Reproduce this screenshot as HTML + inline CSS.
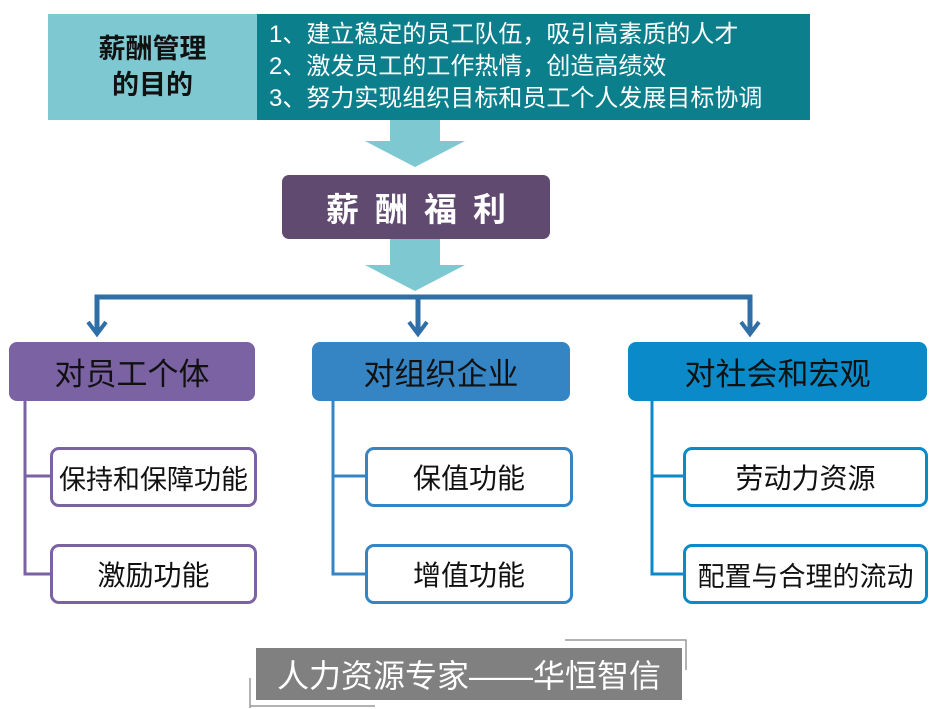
<!DOCTYPE html>
<html><head><meta charset="utf-8"><style>
body{margin:0;width:936px;height:709px;background:#fff;position:relative;overflow:hidden;font-family:"Liberation Sans","Noto Sans CJK SC",sans-serif}
div{position:absolute;box-sizing:border-box}
.c{display:flex;align-items:center;justify-content:center;white-space:nowrap}
.cat{border-radius:8px;font-size:31px;color:#111}
.sub{border:3px solid;border-radius:9px;background:#fff;font-size:28px;color:#111}
</style></head><body>
<div class="c" style="left:48px;top:14px;width:209px;height:106px;background:#7ec8d1;font-size:27px;font-weight:bold;line-height:36px;text-align:center;color:#111">薪酬管理<br>的目的</div>
<div style="left:257px;top:14px;width:553px;height:106px;background:#0c7f8c;color:#fff;font-size:24px;line-height:32px;padding:5px 0 0 12px;white-space:nowrap">1、建立稳定的员工队伍，吸引高素质的人才<br>2、激发员工的工作热情，创造高绩效<br>3、努力实现组织目标和员工个人发展目标协调</div>
<svg style="position:absolute;left:0;top:0" width="936" height="709">
<polygon points="390,120 440,120 440,141 465,141 415,167 365,141 390,141" fill="#7ec8d1"/>
<polygon points="390,239 440,239 440,265 465,265 415,291 365,265 390,265" fill="#7ec8d1"/>
<g stroke="#2e6fa7" stroke-width="5" fill="none">
<path d="M97,334 V297 H750 V334 M418,297 V334"/>
<path d="M88,322 L97,334 L106,322 M409,322 L418,334 L427,322 M741,322 L750,334 L759,322" stroke-width="4"/>
</g>
<g fill="none" stroke-width="3">
<path d="M25,401 V574 H50 M25,476 H50" stroke="#7a62a3"/>
<path d="M333,401 V574 H365 M333,476 H365" stroke="#3585c4"/>
<path d="M652,401 V574 H683 M652,476 H683" stroke="#0a8ac8"/>
</g>
<path d="M250,708 V678 M565,640 H686 V670" stroke="#999" stroke-width="1.5" fill="none"/>
<path d="M250,706 H375" stroke="#999" stroke-width="1.5"/>
</svg>
<div class="c" style="left:282px;top:175px;width:268px;height:64px;background:#614a70;border-radius:7px;color:#fff;font-size:33px;font-weight:bold;letter-spacing:16px;padding-left:16px">薪酬福利</div>
<div class="c cat" style="left:9px;top:342px;width:246px;height:59px;background:#7a62a3">对员工个体</div>
<div class="c cat" style="left:312px;top:342px;width:258px;height:59px;background:#3585c4">对组织企业</div>
<div class="c cat" style="left:628px;top:342px;width:299px;height:59px;background:#0a8ac8">对社会和宏观</div>
<div class="c sub" style="left:50px;top:447px;width:207px;height:60px;border-color:#7a62a3;font-size:27px">保持和保障功能</div>
<div class="c sub" style="left:50px;top:544px;width:207px;height:60px;border-color:#7a62a3">激励功能</div>
<div class="c sub" style="left:365px;top:447px;width:208px;height:60px;border-color:#3585c4">保值功能</div>
<div class="c sub" style="left:365px;top:544px;width:208px;height:60px;border-color:#3585c4">增值功能</div>
<div class="c sub" style="left:683px;top:447px;width:245px;height:60px;border-color:#0a8ac8">劳动力资源</div>
<div class="c sub" style="left:683px;top:544px;width:245px;height:60px;border-color:#0a8ac8;font-size:27px">配置与合理的流动</div>
<div class="c" style="left:256px;top:648px;width:426px;height:52px;background:#808080;color:#fff;font-size:32px">人力资源专家——华恒智信</div>
</body></html>
